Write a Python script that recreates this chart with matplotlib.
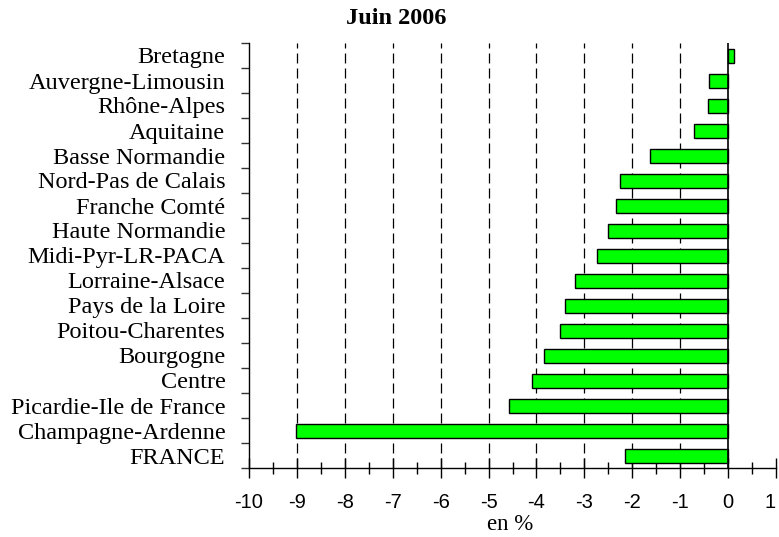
import matplotlib
matplotlib.use("Agg")
import matplotlib.pyplot as plt
import matplotlib.patheffects as pe
from matplotlib.ticker import FixedLocator, MultipleLocator, NullFormatter
import numpy as np

regions = ["Bretagne", "Auvergne-Limousin", "Rhône-Alpes", "Aquitaine",
           "Basse Normandie", "Nord-Pas de Calais", "Franche Comté",
           "Haute Normandie", "Midi-Pyr-LR-PACA", "Lorraine-Alsace",
           "Pays de la Loire", "Poitou-Charentes", "Bourgogne", "Centre",
           "Picardie-Ile de France", "Champagne-Ardenne", "FRANCE"]
values = [0.12, -0.39, -0.42, -0.72, -1.64, -2.26, -2.33, -2.51, -2.73,
          -3.19, -3.40, -3.51, -3.84, -4.09, -4.57, -9.02, -2.15]
xticks = [-10, -9, -8, -7, -6, -5, -4, -3, -2, -1, 0, 1]

fig = plt.figure(figsize=(7.79, 5.37), dpi=100)
ax = fig.add_axes([249/779, 1-468/537, (776-249)/779, (468-43)/537])

n = len(regions)
ypos = np.arange(n)
bars = ax.barh(ypos, values, height=0.56, color="#00ff00", edgecolor="black",
               linewidth=1.0, zorder=3)
for b in bars:
    b.set_path_effects([pe.SimplePatchShadow(offset=(1, -1), shadow_rgbFace="#888888", alpha=0.6),
                        pe.Normal()])

ax.set_ylim(n - 0.5, -0.5)
ax.set_xlim(-10, 1)

for x in xticks[1:-2]:
    ax.axvline(x, color="black", linestyle=(0, (8, 4)), linewidth=0.9, zorder=1)
ax.axvline(0, color="black", linewidth=1.2, zorder=4)

for s in ["top", "right"]:
    ax.spines[s].set_visible(False)
ax.spines["left"].set_linewidth(1.0)
ax.spines["bottom"].set_linewidth(1.0)

# y: ticks at boundaries, labels at centers
ax.yaxis.set_major_locator(FixedLocator(np.arange(-0.5, n, 1.0)))
ax.yaxis.set_major_formatter(NullFormatter())
ax.yaxis.set_minor_locator(FixedLocator(ypos))
ax.set_yticklabels(regions, minor=True, fontfamily="Liberation Serif", fontsize=17.5)
ax.tick_params(axis="y", which="major", direction="out", length=6, width=1, color="#333333")
ax.tick_params(axis="y", which="minor", length=0, pad=17)

ax.set_xticks(xticks)
ax.set_xticklabels([str(v) for v in xticks], fontfamily="Liberation Sans", fontsize=14.5)
ax.xaxis.set_minor_locator(MultipleLocator(0.5))
ax.tick_params(axis="x", which="major", direction="inout", length=14, width=1, pad=11)
ax.tick_params(axis="x", which="minor", direction="inout", length=8, width=1)
ax.get_xticklabels()[-1].set_horizontalalignment("right")

fig.text(510/779, 1-525/537, "en %", fontfamily="Liberation Serif", fontsize=16.5,
         ha="center", va="center")
fig.text(396/779, 1-18/537, "Juin 2006", fontfamily="Liberation Serif", fontsize=17.5,
         fontweight="bold", ha="center", va="center")

fig.savefig("out.png", dpi=100)
